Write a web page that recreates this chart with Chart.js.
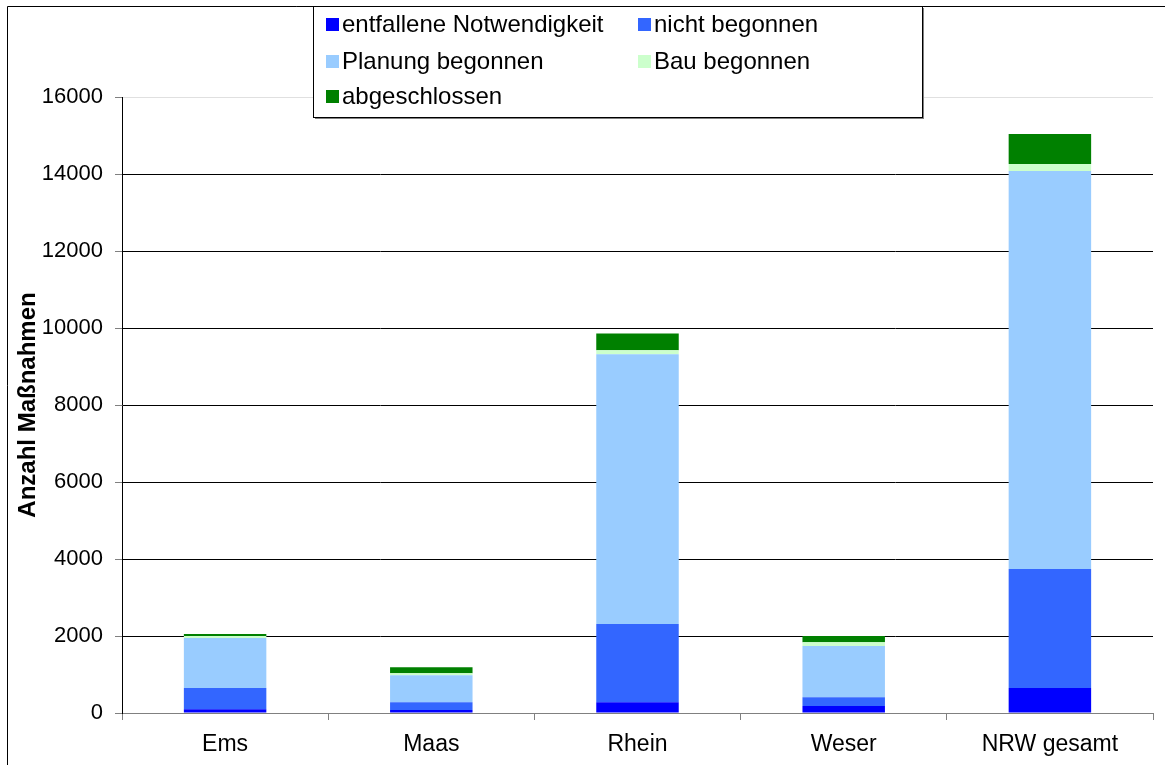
<!DOCTYPE html>
<html>
<head>
<meta charset="utf-8">
<script src="https://cdn.jsdelivr.net/npm/chart.js@4"></script>
<style>
  html, body { margin: 0; padding: 0; background: #fff; }
  #wrap { width: 1165px; height: 765px; position: relative; }
</style>
</head>
<body>
<div id="wrap"><canvas id="chart" width="1165" height="765"></canvas></div>
<script>
// data
const categories = ['Ems', 'Maas', 'Rhein', 'Weser', 'NRW gesamt'];
const entfallen  = [100, 80, 280, 180, 650];
const nicht      = [550, 200, 2030, 230, 3090];
const planung    = [1300, 700, 7010, 1330, 10340];
const bau        = [50, 50, 100, 100, 180];
const abgeschl   = [50, 160, 440, 160, 780];
const yTicks     = [0, 2000, 4000, 6000, 8000, 10000, 12000, 14000, 16000];

const FONT = 'Liberation Sans, Arial, sans-serif';

// legend box drawn over the plot, like the original
const boxLegend = {
  id: 'boxLegend',
  afterDraw(chart) {
    const ctx = chart.ctx;
    ctx.save();
    // outer frame (left + top)
    ctx.strokeStyle = '#000';
    ctx.lineWidth = 1;
    ctx.beginPath();
    ctx.moveTo(7.5, 765); ctx.lineTo(7.5, 6.5); ctx.lineTo(1165, 6.5);
    ctx.stroke();

    const x0 = 313, y0 = 6, w = 609, h = 111;
    ctx.fillStyle = '#808080';
    ctx.fillRect(x0 + 2, y0 + 2, w, h);
    ctx.fillStyle = '#fff';
    ctx.fillRect(x0, y0, w, h);
    ctx.strokeStyle = '#000';
    ctx.strokeRect(x0 + 0.5, y0 + 0.5, w, h);

    const cols = [326, 638];
    const rows = [24, 61, 96];
    ctx.font = '24px ' + FONT;
    ctx.textBaseline = 'middle';
    chart.data.datasets.forEach((ds, i) => {
      const cx = cols[i % 2], cy = rows[Math.floor(i / 2)];
      ctx.fillStyle = ds.backgroundColor;
      ctx.fillRect(cx, cy - 6, 13, 13);
      ctx.fillStyle = '#000';
      ctx.fillText(ds.label, cx + 16, cy + 1);
    });
    ctx.restore();
  }
};

new Chart(document.getElementById('chart'), {
  type: 'bar',
  data: {
    labels: categories,
    datasets: [
      { label: 'entfallene Notwendigkeit', data: entfallen, backgroundColor: '#0000FF' },
      { label: 'nicht begonnen',           data: nicht,     backgroundColor: '#3366FF' },
      { label: 'Planung begonnen',         data: planung,   backgroundColor: '#99CCFF' },
      { label: 'Bau begonnen',             data: bau,       backgroundColor: '#CCFFCC' },
      { label: 'abgeschlossen',            data: abgeschl,  backgroundColor: '#008000' }
    ]
  },
  options: {
    responsive: false,
    animation: false,
    layout: { padding: { top: 97, right: 12, left: 0, bottom: 0 } },
    datasets: { bar: { categoryPercentage: 1, barPercentage: 0.4 } },
    plugins: { legend: { display: false }, tooltip: { enabled: false } },
    scales: {
      x: {
        stacked: true,
        afterFit: s => { s.height = 52; },
        grid: { drawOnChartArea: false, drawTicks: true, tickLength: 7, color: '#808080', offset: true },
        border: { color: '#808080' },
        ticks: { color: '#000', font: { family: FONT, size: 23 }, padding: 11 }
      },
      y: {
        stacked: true,
        min: 0, max: 16000,
        afterFit: s => { s.width = 122; },
        afterBuildTicks: s => { s.ticks = yTicks.map(v => ({ value: v })); },
        grid: {
          color: c => c.tick && c.tick.value === 16000 ? '#e0e0e0' : (c.tick && c.tick.value === 0 ? '#808080' : '#000'),
          tickColor: '#808080',
          tickLength: 7
        },
        border: { color: '#000' },
        ticks: {
          color: '#000', font: { family: FONT, size: 22 }, padding: 12,
          callback: v => String(v)
        },
        title: {
          display: true, text: 'Anzahl Maßnahmen', color: '#000',
          font: { family: FONT, size: 24, weight: 'bold' },
          padding: { top: 14, bottom: 0 }
        }
      }
    }
  },
  plugins: [boxLegend]
});
</script>
</body>
</html>
